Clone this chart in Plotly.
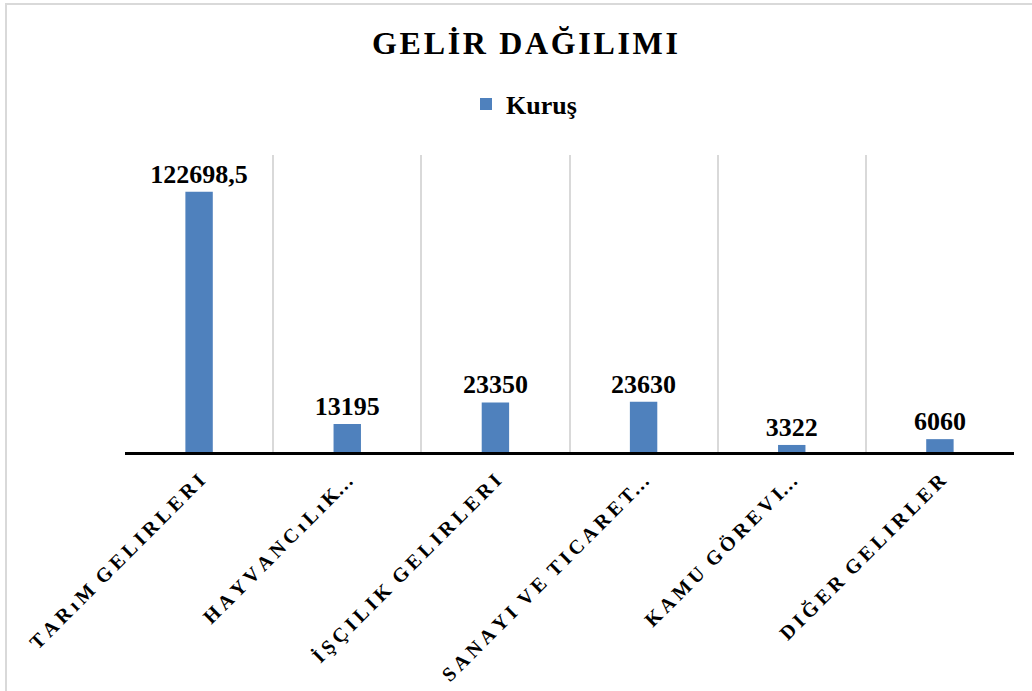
import plotly.graph_objects as go

categories = ["TARıM GELIRLERI", "HAYVANCıLıK…", "İŞÇILIK GELIRLERI",
              "SANAYI VE TICARET…", "KAMU GÖREVI…", "DIĞER GELIRLER"]
values = [122698.5, 13195, 23350, 23630, 3322, 6060]
series_name = "Kuruş"
title_text = "GELİR DAĞILIMI"

THIN = "\u2009"
HAIR = "\u200a"
ENSP = "\u2002"


def spaced(s, sp):
    words = s.split(" ")
    out = []
    for w in words:
        if w.endswith("…"):
            out.append(sp.join(w[:-1]) + "…")
        else:
            out.append(sp.join(w))
    return ENSP.join(out)


def fmt(v):
    s = repr(float(v))
    if s.endswith(".0"):
        s = s[:-2]
    return s.replace(".", ",")


W, H = 1032, 691
L, R, T, B = 125, 18, 155, 239

fig = go.Figure()
fig.add_trace(go.Bar(
    x=[spaced(c, THIN) for c in categories],
    y=values,
    name=series_name,
    marker=dict(color="#4f81bd", line=dict(width=0)),
    width=0.185,
    text=[fmt(v) for v in values],
    textposition="outside",
    constraintext="none",
    cliponaxis=False,
    textfont=dict(family="Liberation Serif", size=26, color="black", weight="bold"),
))

pw = W - L - R
ph = H - T - B
fig.add_shape(type="rect", xref="paper", yref="paper",
              x0=(6 - L) / pw, x1=2, y0=-2, y1=(H - B - 4) / ph,
              line=dict(color="#d9d9d9", width=2), fillcolor="rgba(0,0,0,0)", layer="below")

fig.update_layout(
    width=W, height=H,
    margin=dict(l=L, r=R, t=T, b=B, autoexpand=False),
    paper_bgcolor="white", plot_bgcolor="white",
    title=dict(text=HAIR.join(title_text),
               x=525 / W, xanchor="center", xref="container",
               y=1 - 43 / H, yanchor="middle", yref="container",
               font=dict(family="Liberation Serif", size=32, color="black", weight="bold")),
    showlegend=True,
    legend=dict(orientation="h", x=524 / W, xanchor="center", xref="container",
                y=1 - 104 / H, yanchor="middle", yref="container",
                font=dict(family="Liberation Serif", size=26, color="black", weight="bold")),
    xaxis=dict(
        type="category",
        tickson="boundaries",
        showgrid=True, gridcolor="#d9d9d9", gridwidth=1.5,
        showline=True, linecolor="black", linewidth=3,
        ticks="", tickangle=-45, ticklabelstandoff=6,
        tickfont=dict(family="Liberation Serif", size=20, color="black", weight="bold"),
        range=[-0.5, len(categories) - 0.5],
    ),
    yaxis=dict(range=[0, 140000], showgrid=False, showticklabels=False,
               zeroline=False, showline=False, ticks=""),
)

fig.write_html("out.html", config={"displayModeBar": False},
               post_script="document.body.style.margin='0px';")
